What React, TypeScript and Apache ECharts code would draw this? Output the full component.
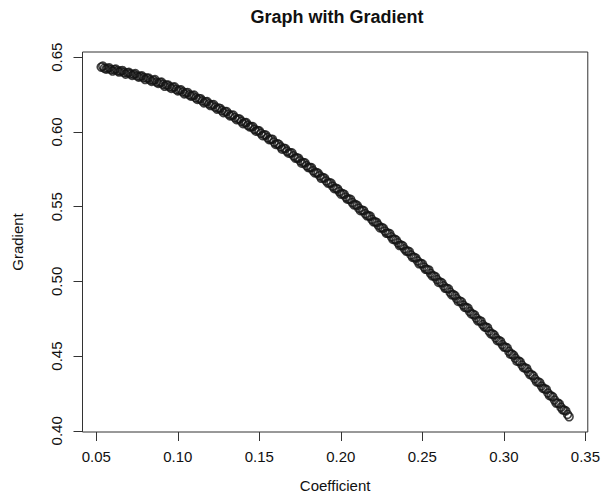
import React, { useEffect, useRef } from "react";
import * as echarts from "echarts";

const chartTitle = "Graph with Gradient";
const xName = "Coefficient";
const yName = "Gradient";
const xTicks = [0.05, 0.1, 0.15, 0.2, 0.25, 0.3, 0.35];
const yTicks = [0.4, 0.45, 0.5, 0.55, 0.6, 0.65];

const coefficientA = [
  0.053, 0.055, 0.057, 0.059, 0.061, 0.063, 0.065, 0.067, 0.069, 0.071,
  0.073, 0.075, 0.077, 0.079, 0.081, 0.083, 0.085, 0.087, 0.089, 0.091,
  0.093, 0.095, 0.097, 0.099, 0.101, 0.103, 0.105, 0.107, 0.109, 0.111,
  0.113, 0.115, 0.117, 0.119, 0.121, 0.123, 0.125, 0.127, 0.129, 0.131,
  0.133, 0.135, 0.137, 0.139, 0.141, 0.143, 0.145, 0.147, 0.149, 0.151,
  0.153, 0.155, 0.157, 0.159, 0.161, 0.163, 0.165, 0.167, 0.169, 0.171,
  0.173, 0.175, 0.177, 0.179, 0.181, 0.183, 0.185, 0.187, 0.189, 0.191,
  0.193, 0.195, 0.197, 0.199, 0.201, 0.203, 0.205, 0.207, 0.209, 0.211,
  0.213, 0.215, 0.217, 0.219, 0.221, 0.223, 0.225, 0.227, 0.229, 0.231,
  0.233, 0.235, 0.237, 0.239, 0.241, 0.243, 0.245, 0.247, 0.249, 0.251,
  0.253, 0.255, 0.257, 0.259, 0.261, 0.263, 0.265, 0.267, 0.269, 0.271,
  0.273, 0.275, 0.277, 0.279, 0.281, 0.283, 0.285, 0.287, 0.289, 0.291,
  0.293, 0.295, 0.297, 0.299, 0.301, 0.303, 0.305, 0.307, 0.309, 0.311,
  0.313, 0.315, 0.317, 0.319, 0.321, 0.323, 0.325, 0.327, 0.329, 0.331,
  0.333, 0.335, 0.337, 0.339, 0.34,
];

const gradientA = [
  0.6434, 0.6427, 0.6426, 0.6418, 0.6417, 0.6409, 0.6407, 0.6398, 0.6396, 0.6388,
  0.6385, 0.6375, 0.6372, 0.6363, 0.636, 0.6349, 0.6346, 0.6334, 0.6331, 0.6319,
  0.6314, 0.6302, 0.6298, 0.6285, 0.628, 0.6268, 0.6262, 0.6249, 0.6243, 0.6229,
  0.6223, 0.6208, 0.6202, 0.6188, 0.6181, 0.6166, 0.6159, 0.6143, 0.6136, 0.612,
  0.6111, 0.6096, 0.6087, 0.6071, 0.6062, 0.6045, 0.6035, 0.6018, 0.6009, 0.5991,
  0.598, 0.5962, 0.5951, 0.5932, 0.5921, 0.5901, 0.589, 0.5871, 0.586, 0.584,
  0.5827, 0.5807, 0.5795, 0.5774, 0.5762, 0.5741, 0.5728, 0.5707, 0.5694, 0.5672,
  0.5659, 0.5637, 0.5623, 0.5601, 0.5587, 0.5564, 0.555, 0.5528, 0.5513, 0.549,
  0.5476, 0.5453, 0.5438, 0.5415, 0.5399, 0.5376, 0.536, 0.5337, 0.5322, 0.5298,
  0.5282, 0.5258, 0.5242, 0.5218, 0.5202, 0.5177, 0.5161, 0.5137, 0.512, 0.5096,
  0.5079, 0.5054, 0.5037, 0.5012, 0.4995, 0.497, 0.4953, 0.4928, 0.4911, 0.4885,
  0.4868, 0.4842, 0.4824, 0.4799, 0.4781, 0.4755, 0.4737, 0.4711, 0.4693, 0.4667,
  0.4648, 0.4622, 0.4604, 0.4577, 0.4559, 0.4532, 0.4513, 0.4486, 0.4467, 0.444,
  0.4421, 0.4394, 0.4375, 0.4348, 0.4328, 0.43, 0.4281, 0.4253, 0.4234, 0.4206,
  0.4186, 0.4158, 0.4138, 0.411, 0.4094,
];

const coefficientB = [
  0.054, 0.056, 0.058, 0.06, 0.062, 0.064, 0.066, 0.068, 0.07, 0.072,
  0.074, 0.076, 0.078, 0.08, 0.082, 0.084, 0.086, 0.088, 0.09, 0.092,
  0.094, 0.096, 0.098, 0.1, 0.102, 0.104, 0.106, 0.108, 0.11, 0.112,
  0.114, 0.116, 0.118, 0.12, 0.122, 0.124, 0.126, 0.128, 0.13, 0.132,
  0.134, 0.136, 0.138, 0.14, 0.142, 0.144, 0.146, 0.148, 0.15, 0.152,
  0.154, 0.156, 0.158, 0.16, 0.162, 0.164, 0.166, 0.168, 0.17, 0.172,
  0.174, 0.176, 0.178, 0.18, 0.182, 0.184, 0.186, 0.188, 0.19, 0.192,
  0.194, 0.196, 0.198, 0.2, 0.202, 0.204, 0.206, 0.208, 0.21, 0.212,
  0.214, 0.216, 0.218, 0.22, 0.222, 0.224, 0.226, 0.228, 0.23, 0.232,
  0.234, 0.236, 0.238, 0.24, 0.242, 0.244, 0.246, 0.248, 0.25, 0.252,
  0.254, 0.256, 0.258, 0.26, 0.262, 0.264, 0.266, 0.268, 0.27, 0.272,
  0.274, 0.276, 0.278, 0.28, 0.282, 0.284, 0.286, 0.288, 0.29, 0.292,
  0.294, 0.296, 0.298, 0.3, 0.302, 0.304, 0.306, 0.308, 0.31, 0.312,
  0.314, 0.316, 0.318, 0.32, 0.322, 0.324, 0.326, 0.328, 0.33, 0.332,
  0.334, 0.336, 0.338,
];

const gradientB = [
  0.644, 0.642, 0.6429, 0.6408, 0.6421, 0.6401, 0.6411, 0.6387, 0.6398, 0.6378,
  0.639, 0.6367, 0.6375, 0.6351, 0.6361, 0.6339, 0.635, 0.6325, 0.6333, 0.6306,
  0.6314, 0.6291, 0.6301, 0.6275, 0.6282, 0.6255, 0.6264, 0.624, 0.6246, 0.6218,
  0.6222, 0.6195, 0.6203, 0.6177, 0.6183, 0.6153, 0.6157, 0.6129, 0.6136, 0.6108,
  0.6113, 0.6083, 0.6086, 0.6056, 0.6062, 0.6034, 0.6036, 0.6005, 0.6007, 0.5975,
  0.5979, 0.5949, 0.5951, 0.5917, 0.5917, 0.5885, 0.5888, 0.5858, 0.586, 0.5825,
  0.5824, 0.5791, 0.5793, 0.5762, 0.5761, 0.5726, 0.5724, 0.569, 0.5691, 0.5658,
  0.5658, 0.5621, 0.5618, 0.5584, 0.5583, 0.555, 0.5549, 0.5512, 0.5508, 0.5473,
  0.5473, 0.5439, 0.5436, 0.5399, 0.5394, 0.5358, 0.5356, 0.5322, 0.532, 0.5281,
  0.5276, 0.524, 0.5238, 0.5203, 0.5199, 0.5161, 0.5156, 0.5118, 0.5117, 0.5081,
  0.5076, 0.5037, 0.5031, 0.4993, 0.499, 0.4954, 0.495, 0.491, 0.4904, 0.4866,
  0.4863, 0.4826, 0.4821, 0.4782, 0.4775, 0.4736, 0.4733, 0.4696, 0.469, 0.4649,
  0.4642, 0.4603, 0.4598, 0.4561, 0.4555, 0.4513, 0.4505, 0.4466, 0.4461, 0.4423,
  0.4417, 0.4376, 0.4368, 0.4328, 0.4323, 0.4284, 0.4277, 0.4235, 0.4227, 0.4186,
  0.418, 0.4141, 0.4133,
];

const FONT = "'Liberation Sans', Arial, Helvetica, sans-serif";

export default function App() {
  const ref = useRef<HTMLDivElement>(null);

  useEffect(() => {
    if (!ref.current) return;
    const chart = echarts.init(ref.current, undefined, { renderer: "svg" });
    const data = [
      ...coefficientA.map((x, i) => [x, gradientA[i]]),
      ...coefficientB.map((x, i) => [x, gradientB[i]]),
    ];
    chart.setOption({
      animation: false,
      backgroundColor: "#ffffff",
      textStyle: { fontFamily: FONT },
      title: {
        text: chartTitle,
        left: 337,
        top: 8,
        textAlign: "center",
        padding: 0,
        textStyle: { fontFamily: FONT, fontSize: 18, fontWeight: "bold", color: "#111" },
      },
      grid: {
        left: 82.5,
        top: 52,
        right: 11.3,
        bottom: 62,
        show: true,
        borderColor: "#333",
        borderWidth: 1,
        backgroundColor: "transparent",
      },
      xAxis: {
        type: "value",
        min: 0.04154,
        max: 0.35146,
        name: xName,
        nameLocation: "middle",
        nameGap: 46,
        nameTextStyle: { fontFamily: FONT, fontSize: 15, color: "#111" },
        axisLine: { show: false },
        axisTick: {
          show: true,
          length: 9,
          customValues: xTicks,
          lineStyle: { color: "#333", width: 1 },
        },
        axisLabel: {
          customValues: xTicks,
          formatter: (v: number) => v.toFixed(2),
          fontFamily: FONT,
          fontSize: 15,
          color: "#111",
          margin: 17,
        },
        splitLine: { show: false },
      },
      yAxis: {
        type: "value",
        min: 0.3992,
        max: 0.6535,
        name: yName,
        nameLocation: "middle",
        nameRotate: 90,
        nameGap: 58,
        nameTextStyle: { fontFamily: FONT, fontSize: 15, color: "#111" },
        axisLine: { show: false },
        axisTick: {
          show: true,
          length: 9,
          customValues: yTicks,
          lineStyle: { color: "#333", width: 1 },
        },
        axisLabel: {
          customValues: yTicks,
          formatter: (v: number) => v.toFixed(2),
          rotate: 90,
          fontFamily: FONT,
          fontSize: 15,
          color: "#111",
          margin: 19,
        },
        splitLine: { show: false },
      },
      series: [
        {
          type: "scatter",
          data,
          symbol: "circle",
          symbolSize: 8,
          itemStyle: {
            color: "rgba(0,0,0,0)",
            borderColor: "#141414",
            borderWidth: 1.6,
          },
          emphasis: { disabled: true },
        },
      ],
    });
    return () => chart.dispose();
  }, []);

  return (
    <div
      ref={ref}
      style={{ position: "absolute", left: 0, top: 0, width: 603, height: 498, background: "#fff" }}
    />
  );
}
